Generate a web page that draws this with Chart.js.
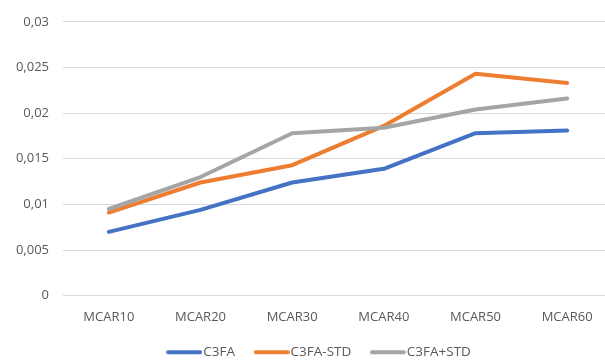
<!DOCTYPE html>
<html>
<head>
<meta charset="utf-8">
<script src="https://cdn.jsdelivr.net/npm/chart.js@4/dist/chart.umd.min.js"></script>
<style>
  html, body { margin: 0; padding: 0; background: #ffffff; overflow: hidden; }
  #wrap { width: 605px; height: 362px; overflow: hidden; position: relative; }
  canvas { display: block; }
</style>
</head>
<body>
<div id="wrap"><canvas id="chart" width="632" height="369"></canvas></div>
<script>
// Categories (missing-data rate) and the three series
const categories = ['MCAR10', 'MCAR20', 'MCAR30', 'MCAR40', 'MCAR50', 'MCAR60'];
const c3fa      = [0.0070, 0.0094, 0.0124, 0.0139, 0.0178, 0.0181];
const c3faMinus = [0.0091, 0.0124, 0.0143, 0.0186, 0.0243, 0.0233];
const c3faPlus  = [0.0095, 0.0130, 0.0178, 0.0184, 0.0204, 0.0216];
const seriesNames = ['C3FA', 'C3FA-STD', 'C3FA+STD'];
const yTicks = [0, 0.005, 0.01, 0.015, 0.02, 0.025, 0.03];

const colors = ['#4472c4', '#ed7d31', '#a5a5a5'];
const textColor = '#595959';
const gridColor = '#d9d9d9';
const family = '"Open Sans", "Noto Sans", sans-serif';
const font = { family, size: 13 };
const legendFont = { family, size: 13.5 };

// Short thick line used as the legend marker
function legendStroke(color) {
  const c = document.createElement('canvas');
  c.width = 36; c.height = 6;
  const g = c.getContext('2d');
  g.strokeStyle = color;
  g.lineWidth = 4;
  g.lineCap = 'round';
  g.beginPath();
  g.moveTo(2, 3);
  g.lineTo(34, 3);
  g.stroke();
  return c;
}

function line(label, data, color, order) {
  return {
    label, data, order,
    borderColor: color,
    backgroundColor: color,
    borderWidth: 4,
    borderCapStyle: 'round',
    borderJoinStyle: 'round',
    pointRadius: 0,
    pointHoverRadius: 0,
    pointStyle: legendStroke(color),
    tension: 0,
    fill: false
  };
}

// Centre the legend row under the visible part of the plot
const legendOffset = {
  id: 'legendOffset',
  afterLayout(chart) {
    if (chart.legend) chart.legend.left += 30;
  }
};

new Chart(document.getElementById('chart'), {
  type: 'line',
  data: {
    labels: categories,
    datasets: [
      line(seriesNames[0], c3fa, colors[0], 3),
      line(seriesNames[1], c3faMinus, colors[1], 2),
      line(seriesNames[2], c3faPlus, colors[2], 1)
    ]
  },
  plugins: [legendOffset],
  options: {
    responsive: false,
    animation: false,
    layout: { padding: { top: 18.5, right: 19, bottom: 0, left: 0 } },
    scales: {
      x: {
        offset: true,
        grid: { display: false, drawTicks: false },
        border: { display: false },
        ticks: { color: textColor, font, padding: 13.5, maxRotation: 0 },
        afterFit(scale) { scale.height = 25.5; }
      },
      y: {
        min: yTicks[0],
        max: yTicks[yTicks.length - 1],
        afterBuildTicks(scale) { scale.ticks = yTicks.map(v => ({ value: v })); },
        grid: { color: gridColor, lineWidth: 1, drawTicks: false },
        border: { display: false },
        ticks: {
          color: textColor, font, padding: 14,
          callback: v => String(Number(v.toFixed(3))).replace('.', ',')
        },
        afterFit(scale) { scale.width = 63; }
      }
    },
    plugins: {
      tooltip: { enabled: false },
      legend: {
        position: 'bottom',
        labels: {
          color: textColor,
          font: legendFont,
          usePointStyle: true,
          pointStyleWidth: 24.5,
          padding: 24.25,
          sort: (a, b) => a.datasetIndex - b.datasetIndex
        }
      }
    }
  }
});
</script>
</body>
</html>
